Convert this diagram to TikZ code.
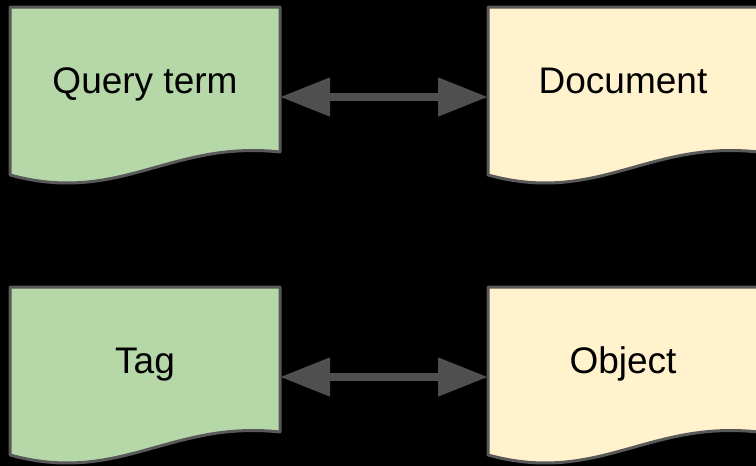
\documentclass[tikz,border=0pt]{standalone}
\usepackage{fontspec}
\setmainfont{Liberation Sans}
\usetikzlibrary{positioning,arrows.meta,backgrounds}
\definecolor{termgreen}{HTML}{B6D7A8}
\definecolor{docyellow}{HTML}{FFF2CC}
\definecolor{edgegray}{HTML}{595959}
\definecolor{arrowgray}{HTML}{4F4F4F}

\begin{document}
\begin{tikzpicture}[x=0.5pt, y=-0.5pt,
		box/.style = {rectangle, minimum width=135pt, minimum height=72.5pt, inner sep=0pt, outer sep=0pt, text height=13.5pt, text depth=0pt, font=\fontsize{18.5}{22}\selectfont},
		docline/.style = {draw=edgegray, line width=1.5pt, line join=round},
		link/.style = {{Triangle[length=25pt,width=18.5pt]}-{Triangle[length=25pt,width=18.5pt]}, line width=4pt, draw=arrowgray}]
		\useasboundingbox (0,0) rectangle (756,466);
		\node[box] (qt) at (145,79.5) {Query term};
		\node[box] (doc) [right=104pt of qt] {Document};
		\node[box] (tag) [below=67.5pt of qt] {Tag};
		\node[box] (obj) [below=67.5pt of doc] {Object};
		\begin{scope}[on background layer]
			\fill[black] (0,0) rectangle (756,466);
			\foreach \n/\c in {qt/termgreen, doc/docyellow, tag/termgreen, obj/docyellow}
				\draw[docline, fill=\c] (\n.south east) -- (\n.north east) -- (\n.north west) -- ([shift={(0,23)}]\n.south west) .. controls ([shift={(110,53)}]\n.south west) and ([shift={(-110,-12)}]\n.south east) .. (\n.south east) -- cycle;
		\end{scope}
		\draw[link] ([shift={(0,17.5)}]qt.east) -- ([shift={(0,17.5)}]doc.west);
		\draw[link] ([shift={(0,17.5)}]tag.east) -- ([shift={(0,17.5)}]obj.west);
	\end{tikzpicture}
\end{document}
